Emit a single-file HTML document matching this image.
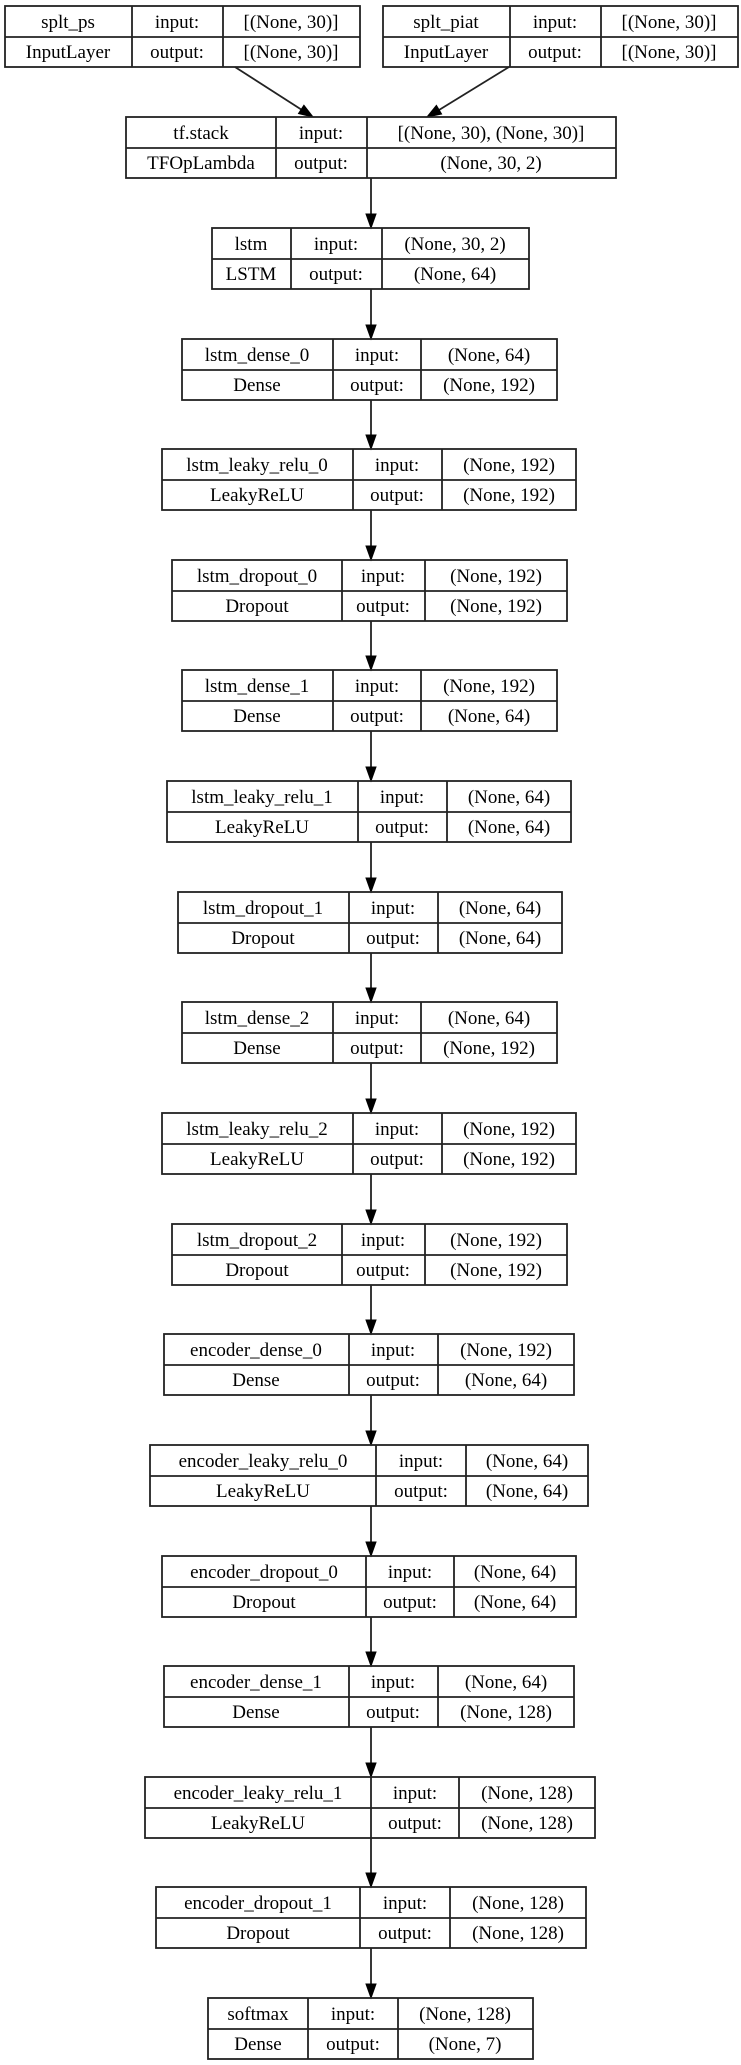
<!DOCTYPE html>
<html><head><meta charset="utf-8"><style>
html,body{margin:0;padding:0;background:#fff;}
svg{display:block;}
text{font-family:"Liberation Serif",serif;font-size:19px;fill:#000;text-anchor:middle;}
rect,line{stroke:#222;stroke-width:1.8;fill:none;}
polygon{fill:#000;stroke:#000;}
</style></head><body>
<svg width="741" height="2065" viewBox="0 0 741 2065" xmlns="http://www.w3.org/2000/svg">
<rect x="5" y="6" width="355" height="61"/><line x1="5" y1="37" x2="360" y2="37"/><line x1="132" y1="6" x2="132" y2="67"/><line x1="223" y1="6" x2="223" y2="67"/>
<text x="68" y="28">splt_ps</text><text x="177" y="28">input:</text><text x="291" y="28">[(None, 30)]</text>
<text x="68" y="58">InputLayer</text><text x="177" y="58">output:</text><text x="291" y="58">[(None, 30)]</text>
<rect x="383" y="6" width="355" height="61"/><line x1="383" y1="37" x2="738" y2="37"/><line x1="510" y1="6" x2="510" y2="67"/><line x1="601" y1="6" x2="601" y2="67"/>
<text x="446" y="28">splt_piat</text><text x="555" y="28">input:</text><text x="669" y="28">[(None, 30)]</text>
<text x="446" y="58">InputLayer</text><text x="555" y="58">output:</text><text x="669" y="58">[(None, 30)]</text>
<line x1="235" y1="67" x2="302" y2="110"/><polygon points="313,117 298.5,113.6 303.9,105.2"/>
<line x1="509" y1="67" x2="439" y2="110"/><polygon points="427,117 436.4,105.4 441.6,114"/>
<rect x="126" y="117" width="490" height="61"/><line x1="126" y1="148" x2="616" y2="148"/><line x1="276" y1="117" x2="276" y2="178"/><line x1="367" y1="117" x2="367" y2="178"/>
<text x="201" y="139">tf.stack</text><text x="321" y="139">input:</text><text x="491" y="139">[(None, 30), (None, 30)]</text>
<text x="201" y="169">TFOpLambda</text><text x="321" y="169">output:</text><text x="491" y="169">(None, 30, 2)</text>
<line x1="371" y1="178" x2="371" y2="216"/><polygon points="371,228 366,214 376,214"/>
<rect x="212" y="228" width="317" height="61"/><line x1="212" y1="259" x2="529" y2="259"/><line x1="291" y1="228" x2="291" y2="289"/><line x1="382" y1="228" x2="382" y2="289"/>
<text x="251" y="250">lstm</text><text x="336" y="250">input:</text><text x="455" y="250">(None, 30, 2)</text>
<text x="251" y="280">LSTM</text><text x="336" y="280">output:</text><text x="455" y="280">(None, 64)</text>
<line x1="371" y1="289" x2="371" y2="327"/><polygon points="371,339 366,325 376,325"/>
<rect x="182" y="339" width="375" height="61"/><line x1="182" y1="370" x2="557" y2="370"/><line x1="333" y1="339" x2="333" y2="400"/><line x1="421" y1="339" x2="421" y2="400"/>
<text x="257" y="361">lstm_dense_0</text><text x="377" y="361">input:</text><text x="489" y="361">(None, 64)</text>
<text x="257" y="391">Dense</text><text x="377" y="391">output:</text><text x="489" y="391">(None, 192)</text>
<line x1="371" y1="400" x2="371" y2="437"/><polygon points="371,449 366,435 376,435"/>
<rect x="162" y="449" width="414" height="61"/><line x1="162" y1="480" x2="576" y2="480"/><line x1="353" y1="449" x2="353" y2="510"/><line x1="442" y1="449" x2="442" y2="510"/>
<text x="257" y="471">lstm_leaky_relu_0</text><text x="397" y="471">input:</text><text x="509" y="471">(None, 192)</text>
<text x="257" y="501">LeakyReLU</text><text x="397" y="501">output:</text><text x="509" y="501">(None, 192)</text>
<line x1="371" y1="510" x2="371" y2="548"/><polygon points="371,560 366,546 376,546"/>
<rect x="172" y="560" width="395" height="61"/><line x1="172" y1="591" x2="567" y2="591"/><line x1="342" y1="560" x2="342" y2="621"/><line x1="425" y1="560" x2="425" y2="621"/>
<text x="257" y="582">lstm_dropout_0</text><text x="383" y="582">input:</text><text x="496" y="582">(None, 192)</text>
<text x="257" y="612">Dropout</text><text x="383" y="612">output:</text><text x="496" y="612">(None, 192)</text>
<line x1="371" y1="621" x2="371" y2="658"/><polygon points="371,670 366,656 376,656"/>
<rect x="182" y="670" width="375" height="61"/><line x1="182" y1="701" x2="557" y2="701"/><line x1="333" y1="670" x2="333" y2="731"/><line x1="421" y1="670" x2="421" y2="731"/>
<text x="257" y="692">lstm_dense_1</text><text x="377" y="692">input:</text><text x="489" y="692">(None, 192)</text>
<text x="257" y="722">Dense</text><text x="377" y="722">output:</text><text x="489" y="722">(None, 64)</text>
<line x1="371" y1="731" x2="371" y2="769"/><polygon points="371,781 366,767 376,767"/>
<rect x="167" y="781" width="404" height="61"/><line x1="167" y1="812" x2="571" y2="812"/><line x1="358" y1="781" x2="358" y2="842"/><line x1="447" y1="781" x2="447" y2="842"/>
<text x="262" y="803">lstm_leaky_relu_1</text><text x="402" y="803">input:</text><text x="509" y="803">(None, 64)</text>
<text x="262" y="833">LeakyReLU</text><text x="402" y="833">output:</text><text x="509" y="833">(None, 64)</text>
<line x1="371" y1="842" x2="371" y2="880"/><polygon points="371,892 366,878 376,878"/>
<rect x="178" y="892" width="384" height="61"/><line x1="178" y1="923" x2="562" y2="923"/><line x1="349" y1="892" x2="349" y2="953"/><line x1="438" y1="892" x2="438" y2="953"/>
<text x="263" y="914">lstm_dropout_1</text><text x="393" y="914">input:</text><text x="500" y="914">(None, 64)</text>
<text x="263" y="944">Dropout</text><text x="393" y="944">output:</text><text x="500" y="944">(None, 64)</text>
<line x1="371" y1="953" x2="371" y2="990"/><polygon points="371,1002 366,988 376,988"/>
<rect x="182" y="1002" width="375" height="61"/><line x1="182" y1="1033" x2="557" y2="1033"/><line x1="333" y1="1002" x2="333" y2="1063"/><line x1="421" y1="1002" x2="421" y2="1063"/>
<text x="257" y="1024">lstm_dense_2</text><text x="377" y="1024">input:</text><text x="489" y="1024">(None, 64)</text>
<text x="257" y="1054">Dense</text><text x="377" y="1054">output:</text><text x="489" y="1054">(None, 192)</text>
<line x1="371" y1="1063" x2="371" y2="1101"/><polygon points="371,1113 366,1099 376,1099"/>
<rect x="162" y="1113" width="414" height="61"/><line x1="162" y1="1144" x2="576" y2="1144"/><line x1="353" y1="1113" x2="353" y2="1174"/><line x1="442" y1="1113" x2="442" y2="1174"/>
<text x="257" y="1135">lstm_leaky_relu_2</text><text x="397" y="1135">input:</text><text x="509" y="1135">(None, 192)</text>
<text x="257" y="1165">LeakyReLU</text><text x="397" y="1165">output:</text><text x="509" y="1165">(None, 192)</text>
<line x1="371" y1="1174" x2="371" y2="1212"/><polygon points="371,1224 366,1210 376,1210"/>
<rect x="172" y="1224" width="395" height="61"/><line x1="172" y1="1255" x2="567" y2="1255"/><line x1="342" y1="1224" x2="342" y2="1285"/><line x1="425" y1="1224" x2="425" y2="1285"/>
<text x="257" y="1246">lstm_dropout_2</text><text x="383" y="1246">input:</text><text x="496" y="1246">(None, 192)</text>
<text x="257" y="1276">Dropout</text><text x="383" y="1276">output:</text><text x="496" y="1276">(None, 192)</text>
<line x1="371" y1="1285" x2="371" y2="1322"/><polygon points="371,1334 366,1320 376,1320"/>
<rect x="164" y="1334" width="410" height="61"/><line x1="164" y1="1365" x2="574" y2="1365"/><line x1="349" y1="1334" x2="349" y2="1395"/><line x1="438" y1="1334" x2="438" y2="1395"/>
<text x="256" y="1356">encoder_dense_0</text><text x="393" y="1356">input:</text><text x="506" y="1356">(None, 192)</text>
<text x="256" y="1386">Dense</text><text x="393" y="1386">output:</text><text x="506" y="1386">(None, 64)</text>
<line x1="371" y1="1395" x2="371" y2="1433"/><polygon points="371,1445 366,1431 376,1431"/>
<rect x="150" y="1445" width="438" height="61"/><line x1="150" y1="1476" x2="588" y2="1476"/><line x1="376" y1="1445" x2="376" y2="1506"/><line x1="466" y1="1445" x2="466" y2="1506"/>
<text x="263" y="1467">encoder_leaky_relu_0</text><text x="421" y="1467">input:</text><text x="527" y="1467">(None, 64)</text>
<text x="263" y="1497">LeakyReLU</text><text x="421" y="1497">output:</text><text x="527" y="1497">(None, 64)</text>
<line x1="371" y1="1506" x2="371" y2="1544"/><polygon points="371,1556 366,1542 376,1542"/>
<rect x="162" y="1556" width="414" height="61"/><line x1="162" y1="1587" x2="576" y2="1587"/><line x1="366" y1="1556" x2="366" y2="1617"/><line x1="454" y1="1556" x2="454" y2="1617"/>
<text x="264" y="1578">encoder_dropout_0</text><text x="410" y="1578">input:</text><text x="515" y="1578">(None, 64)</text>
<text x="264" y="1608">Dropout</text><text x="410" y="1608">output:</text><text x="515" y="1608">(None, 64)</text>
<line x1="371" y1="1617" x2="371" y2="1654"/><polygon points="371,1666 366,1652 376,1652"/>
<rect x="164" y="1666" width="410" height="61"/><line x1="164" y1="1697" x2="574" y2="1697"/><line x1="349" y1="1666" x2="349" y2="1727"/><line x1="438" y1="1666" x2="438" y2="1727"/>
<text x="256" y="1688">encoder_dense_1</text><text x="393" y="1688">input:</text><text x="506" y="1688">(None, 64)</text>
<text x="256" y="1718">Dense</text><text x="393" y="1718">output:</text><text x="506" y="1718">(None, 128)</text>
<line x1="371" y1="1727" x2="371" y2="1765"/><polygon points="371,1777 366,1763 376,1763"/>
<rect x="145" y="1777" width="450" height="61"/><line x1="145" y1="1808" x2="595" y2="1808"/><line x1="371" y1="1777" x2="371" y2="1838"/><line x1="459" y1="1777" x2="459" y2="1838"/>
<text x="258" y="1799">encoder_leaky_relu_1</text><text x="415" y="1799">input:</text><text x="527" y="1799">(None, 128)</text>
<text x="258" y="1829">LeakyReLU</text><text x="415" y="1829">output:</text><text x="527" y="1829">(None, 128)</text>
<line x1="371" y1="1838" x2="371" y2="1875"/><polygon points="371,1887 366,1873 376,1873"/>
<rect x="156" y="1887" width="430" height="61"/><line x1="156" y1="1918" x2="586" y2="1918"/><line x1="360" y1="1887" x2="360" y2="1948"/><line x1="450" y1="1887" x2="450" y2="1948"/>
<text x="258" y="1909">encoder_dropout_1</text><text x="405" y="1909">input:</text><text x="518" y="1909">(None, 128)</text>
<text x="258" y="1939">Dropout</text><text x="405" y="1939">output:</text><text x="518" y="1939">(None, 128)</text>
<line x1="371" y1="1948" x2="371" y2="1986"/><polygon points="371,1998 366,1984 376,1984"/>
<rect x="208" y="1998" width="325" height="61"/><line x1="208" y1="2029" x2="533" y2="2029"/><line x1="308" y1="1998" x2="308" y2="2059"/><line x1="398" y1="1998" x2="398" y2="2059"/>
<text x="258" y="2020">softmax</text><text x="353" y="2020">input:</text><text x="465" y="2020">(None, 128)</text>
<text x="258" y="2050">Dense</text><text x="353" y="2050">output:</text><text x="465" y="2050">(None, 7)</text>
</svg>
</body></html>
